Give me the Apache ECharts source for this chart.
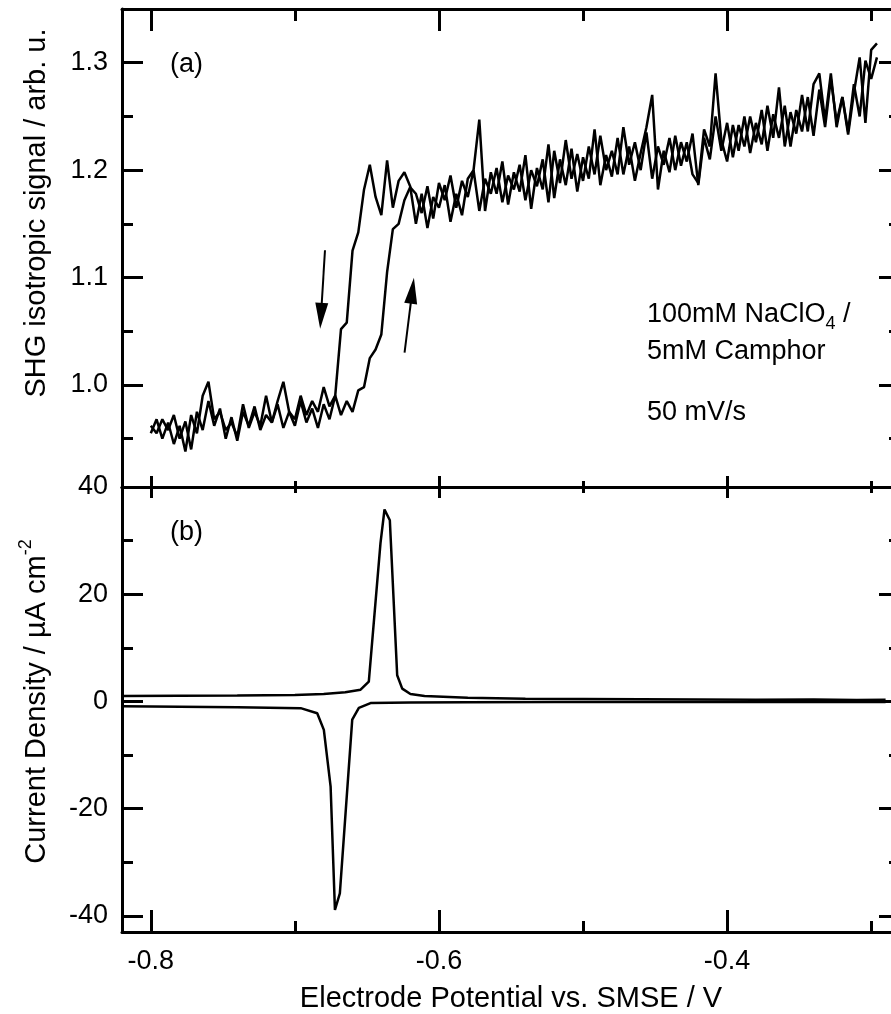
<!DOCTYPE html>
<html>
<head>
<meta charset="utf-8">
<script src="https://cdn.jsdelivr.net/npm/echarts@6/dist/echarts.min.js"></script>
<style>html,body{margin:0;padding:0;background:#fff}#chart{width:891px;height:1014px}</style>
</head>
<body>
<div id="chart"></div>
<script>
// ---------- data ----------
const shgPotential = [
  -0.800,-0.796,-0.792,-0.788,-0.784,-0.780,-0.776,-0.772,-0.768,-0.764,
  -0.760,-0.756,-0.752,-0.748,-0.744,-0.740,-0.736,-0.732,-0.728,-0.724,
  -0.720,-0.716,-0.712,-0.708,-0.704,-0.700,-0.696,-0.692,-0.688,-0.684,
  -0.680,-0.676,-0.672,-0.668,-0.664,-0.660,-0.656,-0.652,-0.648,-0.644,
  -0.640,-0.636,-0.632,-0.628,-0.624,-0.620,-0.616,-0.612,-0.608,-0.604,
  -0.600,-0.596,-0.592,-0.588,-0.584,-0.580,-0.576,-0.572,-0.568,-0.564,
  -0.560,-0.556,-0.552,-0.548,-0.544,-0.540,-0.536,-0.532,-0.528,-0.524,
  -0.520,-0.516,-0.512,-0.508,-0.504,-0.500,-0.496,-0.492,-0.488,-0.484,
  -0.480,-0.476,-0.472,-0.468,-0.464,-0.460,-0.456,-0.452,-0.448,-0.444,
  -0.440,-0.436,-0.432,-0.428,-0.424,-0.420,-0.416,-0.412,-0.408,-0.404,
  -0.400,-0.396,-0.392,-0.388,-0.384,-0.380,-0.376,-0.372,-0.368,-0.364,
  -0.360,-0.356,-0.352,-0.348,-0.344,-0.340,-0.336,-0.332,-0.328,-0.324,
  -0.320,-0.316,-0.312,-0.308,-0.304,-0.300,-0.296
];
// SHG signal, anodic (positive-going) scan
const shgAnodicScan = [
  0.962,0.955,0.968,0.958,0.972,0.950,0.966,0.940,0.975,0.958,
  0.985,0.962,0.978,0.950,0.970,0.948,0.975,0.962,0.980,0.958,
  0.972,0.965,0.982,0.960,0.975,0.962,0.985,0.965,0.978,0.960,
  0.982,0.968,0.990,0.972,0.985,0.975,0.995,0.998,1.025,1.033,
  1.047,1.105,1.145,1.150,1.172,1.184,1.178,1.160,1.185,1.155,
  1.188,1.172,1.195,1.165,1.190,1.175,1.200,1.162,1.192,1.178,
  1.202,1.170,1.195,1.182,1.205,1.172,1.200,1.185,1.210,1.170,
  1.218,1.188,1.228,1.192,1.215,1.190,1.222,1.196,1.232,1.200,
  1.218,1.196,1.240,1.205,1.226,1.200,1.235,1.192,1.222,1.205,
  1.230,1.200,1.226,1.208,1.234,1.186,1.230,1.210,1.250,1.218,
  1.244,1.212,1.242,1.222,1.250,1.226,1.256,1.218,1.252,1.230,
  1.260,1.222,1.256,1.236,1.268,1.232,1.275,1.240,1.285,1.245,
  1.268,1.236,1.280,1.250,1.302,1.285,1.305
];
// SHG signal, cathodic (negative-going) scan
const shgCathodicScan = [
  0.955,0.968,0.950,0.965,0.945,0.962,0.938,0.972,0.955,0.990,
  1.003,0.968,0.975,0.958,0.965,0.952,0.982,0.960,0.975,0.962,
  0.990,0.965,0.985,1.003,0.975,0.968,0.990,0.972,0.985,0.975,
  0.998,0.980,0.990,1.052,1.058,1.125,1.142,1.182,1.205,1.175,
  1.158,1.209,1.165,1.190,1.198,1.185,1.150,1.178,1.146,1.175,
  1.165,1.186,1.152,1.178,1.158,1.192,1.200,1.247,1.162,1.198,
  1.178,1.208,1.168,1.198,1.180,1.214,1.164,1.202,1.182,1.224,
  1.174,1.210,1.186,1.220,1.180,1.212,1.192,1.238,1.186,1.214,
  1.194,1.230,1.196,1.222,1.190,1.216,1.240,1.270,1.182,1.218,
  1.198,1.232,1.204,1.226,1.196,1.188,1.238,1.222,1.290,1.228,
  1.208,1.242,1.218,1.250,1.216,1.244,1.224,1.260,1.230,1.277,
  1.222,1.254,1.234,1.270,1.236,1.280,1.290,1.246,1.290,1.240,
  1.268,1.233,1.272,1.305,1.244,1.312,1.318
];
// Cyclic voltammogram, anodic branch
const cvAnodicPotential = [-0.820,-0.780,-0.740,-0.700,-0.680,-0.665,-0.6544,-0.6487,-0.6406,-0.6378,-0.6341,-0.6290,-0.6255,-0.6198,-0.610,-0.580,-0.540,-0.500,-0.460,-0.420,-0.380,-0.340,-0.310,-0.290];
const cvAnodicCurrent   = [1.0,1.05,1.1,1.2,1.4,1.7,2.2,3.7,29.5,35.8,33.8,4.9,2.4,1.4,1.0,0.7,0.5,0.45,0.4,0.35,0.3,0.35,0.25,0.3];
// Cyclic voltammogram, cathodic branch
const cvCathodicPotential = [-0.290,-0.340,-0.400,-0.460,-0.520,-0.580,-0.620,-0.6475,-0.6556,-0.6602,-0.6688,-0.6722,-0.6752,-0.6799,-0.6845,-0.696,-0.740,-0.780,-0.820];
const cvCathodicCurrent   = [-0.1,-0.1,-0.1,-0.1,-0.1,-0.15,-0.2,-0.3,-1.2,-3.4,-35.8,-38.9,-15.9,-5.3,-2.2,-1.25,-1.1,-1.0,-0.9];

// axis ranges and ticks
const potentialRange = [-0.82, -0.28];
const shgRange = [0.905, 1.35];
const currentRange = [-43, 40];
const potentialMajorTicks = [-0.8, -0.6, -0.4];
const potentialMinorTicks = [-0.7, -0.5, -0.3];
const shgMajorTicks = [1.0, 1.1, 1.2, 1.3];
const shgMinorTicks = [0.95, 1.05, 1.15, 1.25];
const currentMajorTicks = [-40, -20, 0, 20, 40];
const currentMinorTicks = [-30, -10, 10, 30];

// scan-direction arrows (data coordinates: tail, arrow-head centre)
const arrowCathodic = [[-0.6791, 1.1254], [-0.6819, 1.0644]];
const arrowAnodic = [[-0.6239, 1.0301], [-0.6185, 1.0877]];

// ---------- chart ----------
const FONT = '"Liberation Sans", Arial, Helvetica, sans-serif';
const BLACK = '#000';
const TICK_FS = 27;
const TITLE_FS = 29;

function zip(xs, ys) { return xs.map((x, i) => [x, ys[i]]); }

function axisSet(gridIndex, position, range, majors, minors, majorLen, minorLen, extraMajor) {
  const base = { type: 'value', gridIndex, position, min: range[0], max: range[1],
    splitLine: { show: false }, silent: true, axisPointer: { show: false } };
  const major = Object.assign({}, base, {
    axisLine: { show: true, onZero: false, lineStyle: { color: BLACK, width: 3 } },
    axisTick: { show: true, inside: true, length: majorLen, customValues: majors,
      lineStyle: { color: BLACK, width: 3 } },
    axisLabel: { show: false }
  }, extraMajor || {});
  const minor = Object.assign({}, base, {
    axisLine: { show: false, onZero: false },
    axisTick: { show: true, inside: true, length: minorLen, customValues: minors,
      lineStyle: { color: BLACK, width: 3 } },
    axisLabel: { show: false }
  });
  return [major, minor];
}

const yLabel = (ticks, decimals) => ({
  show: true, customValues: ticks, margin: 14, color: BLACK, fontSize: TICK_FS, fontFamily: FONT,
  formatter: (v) => Number(v).toFixed(decimals)
});

const xAxes = [].concat(
  axisSet(0, 'bottom', potentialRange, potentialMajorTicks, potentialMinorTicks, 11, 6),
  axisSet(0, 'top', potentialRange, potentialMajorTicks, potentialMinorTicks, 22, 12),
  axisSet(1, 'bottom', potentialRange, potentialMajorTicks, potentialMinorTicks, 22, 11, {
    axisLabel: { show: true, customValues: potentialMajorTicks, margin: 16, color: BLACK,
      fontSize: TICK_FS, fontFamily: FONT, formatter: (v) => Number(v).toFixed(1) },
    name: 'Electrode Potential vs. SMSE / V', nameLocation: 'middle', nameGap: 52,
    nameTextStyle: { color: BLACK, fontSize: TITLE_FS, fontFamily: FONT }
  }),
  axisSet(1, 'top', potentialRange, potentialMajorTicks, potentialMinorTicks, 11, 6)
);

const yAxes = [].concat(
  axisSet(0, 'left', shgRange, shgMajorTicks, shgMinorTicks, 21, 11, {
    axisLabel: yLabel(shgMajorTicks, 1),
    name: 'SHG isotropic signal / arb. u.', nameLocation: 'middle', nameGap: 71,
    nameTextStyle: { color: BLACK, fontSize: TITLE_FS, fontFamily: FONT, padding: [0, 0, 0, 70] }
  }),
  axisSet(0, 'right', shgRange, shgMajorTicks, shgMinorTicks, 21, 11),
  axisSet(1, 'left', currentRange, currentMajorTicks, currentMinorTicks, 21, 11, {
    axisLabel: yLabel(currentMajorTicks, 0),
    name: 'Current Density / µA cm{sup|-2}', nameLocation: 'middle', nameGap: 71,
    nameTextStyle: { color: BLACK, fontSize: TITLE_FS, fontFamily: FONT, padding: [0, 0, 0, 16],
      rich: { sup: { fontSize: 18, fontFamily: FONT, color: BLACK, lineHeight: 18, padding: [0, 0, 20, 0] } } }
  }),
  axisSet(1, 'right', currentRange, currentMajorTicks, currentMinorTicks, 21, 11)
);

const lineStyle = { color: BLACK, width: 2.5 };
const arrowLine = (a) => [
  { coord: a[0], symbol: 'none' },
  { coord: a[1], symbol: 'triangle', symbolSize: [13, 26] }
];

const option = {
  animation: false,
  backgroundColor: '#fff',
  textStyle: { fontFamily: FONT, color: BLACK },
  grid: [
    { left: 122, top: 9, width: 778, height: 478, containLabel: false, outerBoundsMode: 'none' },
    { left: 122, top: 487, width: 778, height: 445, containLabel: false, outerBoundsMode: 'none' }
  ],
  xAxis: xAxes,
  yAxis: yAxes,
  series: [
    { type: 'line', name: 'SHG cathodic', xAxisIndex: 0, yAxisIndex: 0,
      data: zip(shgPotential, shgCathodicScan), showSymbol: false, symbol: 'none',
      lineStyle, itemStyle: { color: BLACK }, emphasis: { disabled: true },
      markLine: { silent: true, animation: false, symbol: ['none', 'triangle'],
        symbolSize: 20, label: { show: false }, emphasis: { disabled: true },
        lineStyle: { color: BLACK, width: 2, type: 'solid' }, itemStyle: { color: BLACK },
        data: [arrowLine(arrowCathodic), arrowLine(arrowAnodic)] } },
    { type: 'line', name: 'SHG anodic', xAxisIndex: 0, yAxisIndex: 0,
      data: zip(shgPotential, shgAnodicScan), showSymbol: false, symbol: 'none',
      lineStyle, itemStyle: { color: BLACK }, emphasis: { disabled: true } },
    { type: 'line', name: 'CV anodic', xAxisIndex: 4, yAxisIndex: 4,
      data: zip(cvAnodicPotential, cvAnodicCurrent), showSymbol: false, symbol: 'none',
      lineStyle, itemStyle: { color: BLACK }, emphasis: { disabled: true } },
    { type: 'line', name: 'CV cathodic', xAxisIndex: 4, yAxisIndex: 4,
      data: zip(cvCathodicPotential, cvCathodicCurrent), showSymbol: false, symbol: 'none',
      lineStyle, itemStyle: { color: BLACK }, emphasis: { disabled: true } }
  ],
  graphic: [
    { type: 'text', x: 170, y: 65, silent: true,
      style: { text: '(a)', fontSize: TICK_FS, fontFamily: FONT, fill: BLACK,
        verticalAlign: 'middle', textVerticalAlign: 'middle' } },
    { type: 'text', x: 170, y: 533, silent: true,
      style: { text: '(b)', fontSize: TICK_FS, fontFamily: FONT, fill: BLACK,
        verticalAlign: 'middle', textVerticalAlign: 'middle' } },
    { type: 'text', x: 647, y: 315, silent: true,
      style: { text: '100mM NaClO{sub|4} /', fontSize: TICK_FS, fontFamily: FONT, fill: BLACK,
        verticalAlign: 'middle', textVerticalAlign: 'middle',
        rich: { sub: { fontSize: 18, fontFamily: FONT, fill: BLACK, lineHeight: 18, padding: [18, 0, 0, 0] } } } },
    { type: 'text', x: 647, y: 352, silent: true,
      style: { text: '5mM Camphor', fontSize: TICK_FS, fontFamily: FONT, fill: BLACK,
        verticalAlign: 'middle', textVerticalAlign: 'middle' } },
    { type: 'text', x: 647, y: 413, silent: true,
      style: { text: '50 mV/s', fontSize: TICK_FS, fontFamily: FONT, fill: BLACK,
        verticalAlign: 'middle', textVerticalAlign: 'middle' } }
  ]
};

const chart = echarts.init(document.getElementById('chart'), null, { renderer: 'canvas' });
chart.setOption(option);
</script>
</body>
</html>
